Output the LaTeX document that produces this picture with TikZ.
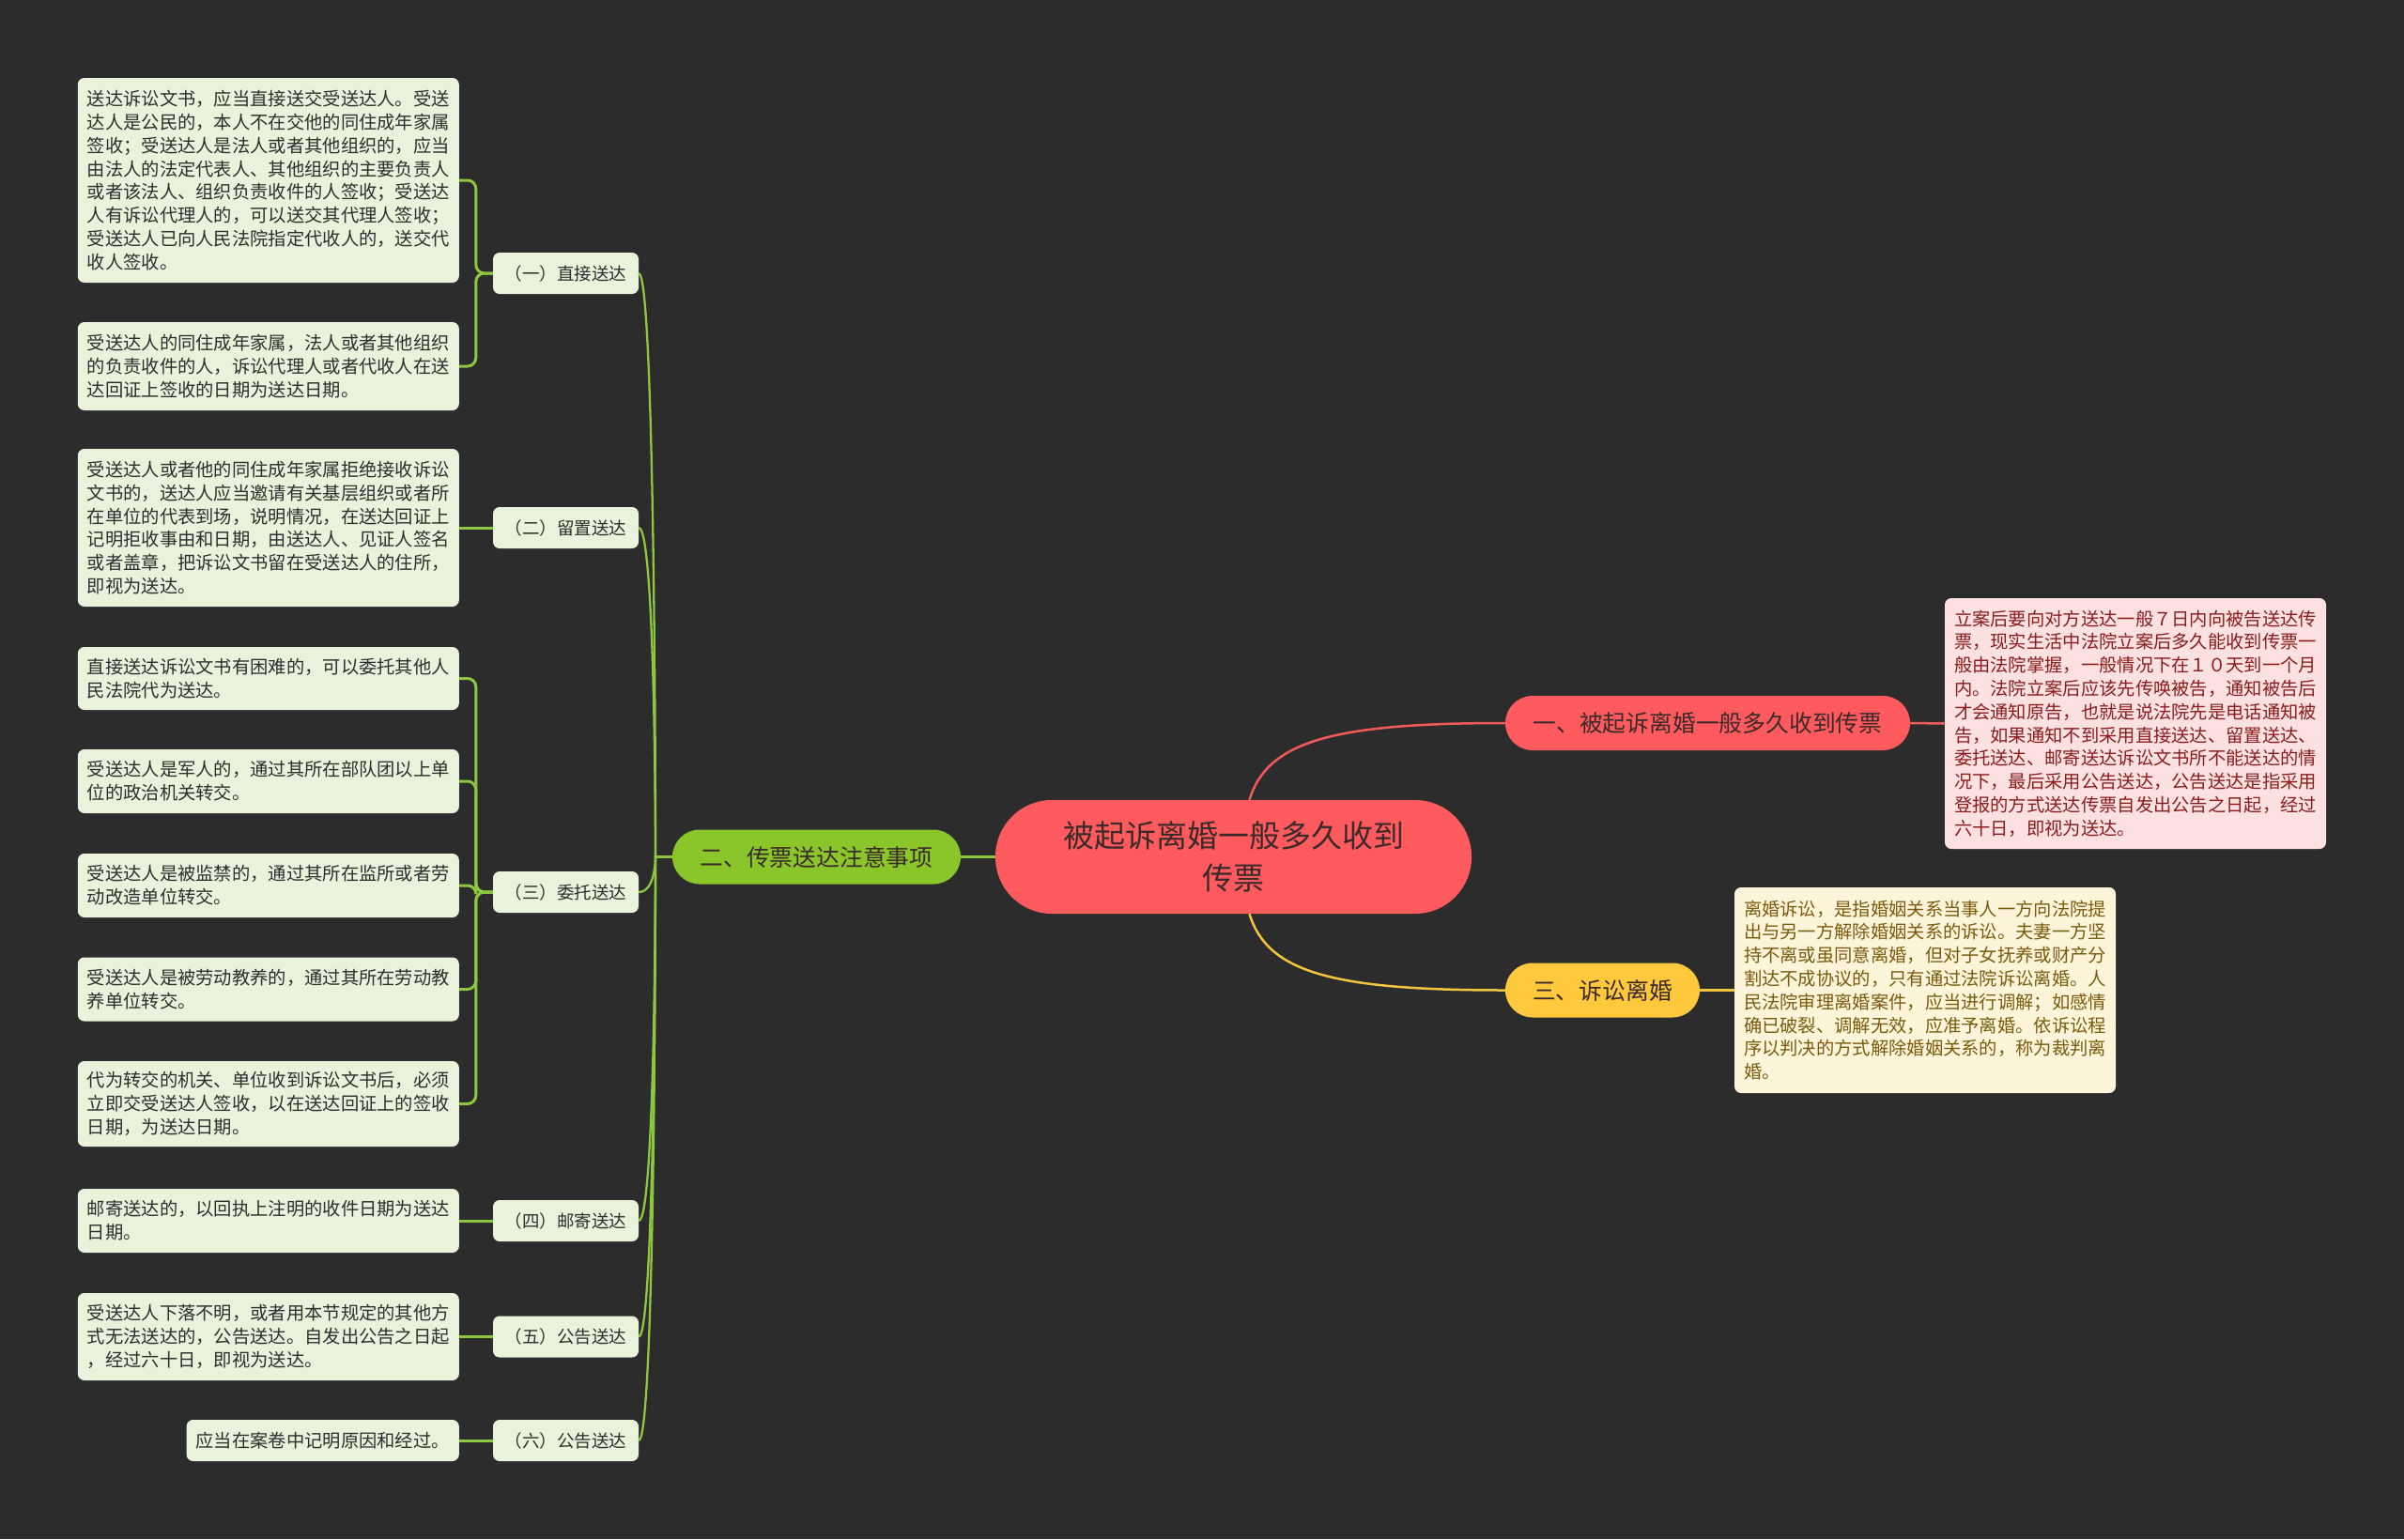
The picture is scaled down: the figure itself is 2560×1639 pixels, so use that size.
\documentclass[tikz,border=0pt]{standalone}
\usepackage{fontspec}
\setmainfont{Noto Sans CJK SC}
\definecolor{bgc}{HTML}{2C2C2C}
\definecolor{lgreen}{HTML}{8DC63F}
\definecolor{gfill}{HTML}{8AC52A}
\definecolor{leaffill}{HTML}{E9F2DA}
\definecolor{leaftext}{HTML}{2E2E2E}
\definecolor{rootfill}{HTML}{FF5A5E}
\definecolor{darktext}{HTML}{3A2A2A}
\definecolor{redline}{HTML}{F25A5A}
\definecolor{yfill}{HTML}{FFC83D}
\definecolor{yline}{HTML}{F3C43E}
\definecolor{pinkfill}{HTML}{FDE1E1}
\definecolor{pinktext}{HTML}{8A1C1C}
\definecolor{creamfill}{HTML}{FDF4DA}
\definecolor{creamtext}{HTML}{7A5B0C}
\begin{document}
\begin{tikzpicture}[x=1pt,y=-1pt,
  leaf/.style={fill=leaffill, text=leaftext, rounded corners=7pt,
    font=\fontsize{19.3}{24.8}\selectfont, align=left, text width=386pt,
    inner xsep=10pt, inner ysep=0pt, anchor=east},
  shortleaf/.style={fill=leaffill, text=leaftext, rounded corners=7pt,
    font=\fontsize{19.3}{24.8}\selectfont, inner xsep=10pt, inner ysep=0pt,
    minimum height=44pt, anchor=east},
  sub/.style={fill=leaffill, text=leaftext, rounded corners=7pt,
    minimum width=155pt, minimum height=44pt, inner sep=0pt,
    font=\fontsize{18.5}{22}\selectfont},
  pill/.style={rounded corners=29pt, minimum height=58pt, inner sep=0pt,
    font=\fontsize{24.8}{30}\selectfont, text=darktext},
  rootnode/.style={fill=rootfill, text=darktext, rounded corners=60pt,
    minimum width=507pt, minimum height=121pt, inner sep=0pt, align=center,
    font=\fontsize{33}{45}\selectfont},
  note/.style={rounded corners=7pt, font=\fontsize{19.3}{24.8}\selectfont,
    align=left, text width=386pt, inner xsep=10pt, inner ysep=0pt},
  gline/.style={draw=lgreen, line width=2.3pt},
  bline/.style={draw=lgreen, line width=3pt, rounded corners=9pt},
]
\fill[bgc] (0,0) rectangle (2560,1639);
\useasboundingbox (0,0) rectangle (2560,1639);

% root and main branches
\node[rootnode] (root) at (1313.5,912.5) {被起诉离婚一般多久收到\\传票};
\node[pill, fill=rootfill, minimum width=431pt] (b1) at (1818.5,770) {一、被起诉离婚一般多久收到传票};
\node[pill, fill=yfill, minimum width=207pt] (b3) at (1706.5,1054.5) {三、诉讼离婚};
\node[pill, fill=gfill, minimum width=307pt] (b2) at (869.5,912.5) {二、传票送达注意事项};
\coordinate (j) at (698,912.5);

% right notes
\node[note, fill=pinkfill, text=pinktext, minimum height=267pt] (n1) at (2274,770.5) {立案后要向对方送达一般７日内向被告送达传\\票，现实生活中法院立案后多久能收到传票一\\般由法院掌握，一般情况下在１０天到一个月\\内。法院立案后应该先传唤被告，通知被告后\\才会通知原告，也就是说法院先是电话通知被\\告，如果通知不到采用直接送达、留置送达、\\委托送达、邮寄送达诉讼文书所不能送达的情\\况下，最后采用公告送达，公告送达是指采用\\登报的方式送达传票自发出公告之日起，经过\\六十日，即视为送达。};
\node[note, fill=creamfill, text=creamtext, minimum height=219pt] (n3) at (2050,1054.5) {离婚诉讼，是指婚姻关系当事人一方向法院提\\出与另一方解除婚姻关系的诉讼。夫妻一方坚\\持不离或虽同意离婚，但对子女抚养或财产分\\割达不成协议的，只有通过法院诉讼离婚。人\\民法院审理离婚案件，应当进行调解；如感情\\确已破裂、调解无效，应准予离婚。依诉讼程\\序以判决的方式解除婚姻关系的，称为裁判离\\婚。};

% sub labels
\node[sub] (s1) at (602.5,291) {（一）直接送达};
\node[sub] (s2) at (602.5,562) {（二）留置送达};
\node[sub] (s3) at (602.5,950) {（三）委托送达};
\node[sub] (s4) at (602.5,1300) {（四）邮寄送达};
\node[sub] (s5) at (602.5,1423.5) {（五）公告送达};
\node[sub] (s6) at (602.5,1534) {（六）公告送达};

% leaves
\node[leaf, minimum height=218pt] (l1) at (489,192) {送达诉讼文书，应当直接送交受送达人。受送\\达人是公民的，本人不在交他的同住成年家属\\签收；受送达人是法人或者其他组织的，应当\\由法人的法定代表人、其他组织的主要负责人\\或者该法人、组织负责收件的人签收；受送达\\人有诉讼代理人的，可以送交其代理人签收；\\受送达人已向人民法院指定代收人的，送交代\\收人签收。};
\node[leaf, minimum height=94pt] (l2) at (489,390) {受送达人的同住成年家属，法人或者其他组织\\的负责收件的人，诉讼代理人或者代收人在送\\达回证上签收的日期为送达日期。};
\node[leaf, minimum height=168pt] (l3) at (489,562) {受送达人或者他的同住成年家属拒绝接收诉讼\\文书的，送达人应当邀请有关基层组织或者所\\在单位的代表到场，说明情况，在送达回证上\\记明拒收事由和日期，由送达人、见证人签名\\或者盖章，把诉讼文书留在受送达人的住所，\\即视为送达。};
\node[leaf, minimum height=67pt] (l4) at (489,722.5) {直接送达诉讼文书有困难的，可以委托其他人\\民法院代为送达。};
\node[leaf, minimum height=68pt] (l5) at (489,832) {受送达人是军人的，通过其所在部队团以上单\\位的政治机关转交。};
\node[leaf, minimum height=68pt] (l6) at (489,943) {受送达人是被监禁的，通过其所在监所或者劳\\动改造单位转交。};
\node[leaf, minimum height=68pt] (l7) at (489,1053.5) {受送达人是被劳动教养的，通过其所在劳动教\\养单位转交。};
\node[leaf, minimum height=91pt] (l8) at (489,1175.5) {代为转交的机关、单位收到诉讼文书后，必须\\立即交受送达人签收，以在送达回证上的签收\\日期，为送达日期。};
\node[leaf, minimum height=68pt] (l9) at (489,1300) {邮寄送达的，以回执上注明的收件日期为送达\\日期。};
\node[leaf, minimum height=93pt] (l10) at (489,1423.5) {受送达人下落不明，或者用本节规定的其他方\\式无法送达的，公告送达。自发出公告之日起\\，经过六十日，即视为送达。};
\node[shortleaf] (l11) at (489,1534) {应当在案卷中记明原因和经过。};

% connectors: root to main branches
\draw[draw=redline, line width=2.5pt] ([xshift=17pt]root.north) .. controls +(19,-62) and +(-185,0) .. (b1.west);
\draw[draw=redline, line width=2.5pt] (b1.east) -- (n1.west);
\draw[draw=yline, line width=2.5pt] ([xshift=17pt]root.south) .. controls +(19,62) and +(-185,0) .. (b3.west);
\draw[draw=yline, line width=2.5pt] (b3.east) -- (n3.west);
\draw[gline] (root.west) -- (b2.east);

% branch 二 to sub labels
\foreach \s in {s1,s2,s3,s4,s5,s6}
  \draw[gline] (\s.east) .. controls +(18,0) and (j) .. (j) -- (b2.west);

% sub labels to leaves
\draw[bline] (s1.west) -- ++(-18,0) |- (l1.east);
\draw[bline] (s1.west) -- ++(-18,0) |- (l2.east);
\draw[bline] (s2.west) -- (l3.east);
\draw[bline] (s3.west) -- ++(-18,0) |- (l4.east);
\draw[bline] (s3.west) -- ++(-18,0) |- (l5.east);
\draw[bline] (s3.west) -- ++(-18,0) |- (l6.east);
\draw[bline] (s3.west) -- ++(-18,0) |- (l7.east);
\draw[bline] (s3.west) -- ++(-18,0) |- (l8.east);
\draw[bline] (s4.west) -- (l9.east);
\draw[bline] (s5.west) -- (l10.east);
\draw[bline] (s6.west) -- (l11.east);
\end{tikzpicture}
\end{document}
